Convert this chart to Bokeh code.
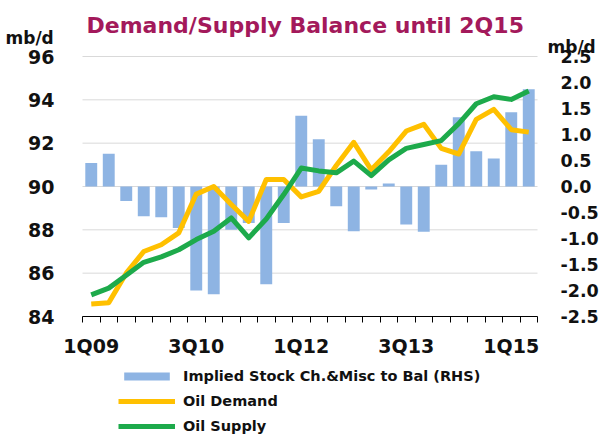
from bokeh.plotting import figure
from bokeh.models import Range1d, LinearAxis, FixedTicker, Label, Legend, LegendItem
from bokeh.embed import file_html
from bokeh.resources import INLINE

quarters = ["1Q09", "2Q09", "3Q09", "4Q09", "1Q10", "2Q10", "3Q10", "4Q10",
            "1Q11", "2Q11", "3Q11", "4Q11", "1Q12", "2Q12", "3Q12", "4Q12",
            "1Q13", "2Q13", "3Q13", "4Q13", "1Q14", "2Q14", "3Q14", "4Q14",
            "1Q15", "2Q15"]
oil_demand = [84.58, 84.64, 86.0, 87.0, 87.31, 87.86, 89.65, 90.0,
              89.17, 88.39, 90.32, 90.32, 89.52, 89.78, 90.97, 92.04,
              90.77, 91.6, 92.56, 92.87, 91.76, 91.5, 93.1, 93.56,
              92.62, 92.51]
oil_supply = [85.0, 85.31, 85.9, 86.5, 86.75, 87.08, 87.55, 87.93,
              88.55, 87.63, 88.5, 89.63, 90.85, 90.72, 90.63, 91.17,
              90.5, 91.23, 91.76, 91.94, 92.12, 92.9, 93.82, 94.14,
              94.02, 94.41]
stock_change = [0.45, 0.63, -0.28, -0.57, -0.59, -0.8, -2.0, -2.07,
                -0.83, -0.7, -1.88, -0.7, 1.36, 0.91, -0.38, -0.86,
                -0.06, 0.06, -0.73, -0.87, 0.42, 1.33, 0.68, 0.54,
                1.43, 1.87]
left_ticks = [84, 86, 88, 90, 92, 94, 96]
right_ticks = [-2.5, -2.0, -1.5, -1.0, -0.5, 0.0, 0.5, 1.0, 1.5, 2.0, 2.5]
right_labels = ["-2.5", "-2.0", "-1.5", "-1.0", "-0.5", "0.0", "0.5", "1.0", "1.5", "2.0", "2.5"]
shown_quarters = ["1Q09", "3Q10", "1Q12", "3Q13", "1Q15"]
unit_label = "mb/d"
title_text = "Demand/Supply Balance until 2Q15"

FONT = "DejaVu Sans"
n = len(quarters)
xs = list(range(n))

# geometry (pixels). The frame covers the whole canvas; the axes are pinned
# to the edges of the plotting area so that the title and legend fit inside.
W, H = 599, 438
LEFT, RIGHT, TOP, SPAN_Y = 82, 62, 56, 260
BOTTOM = H - TOP - SPAN_Y
x_ppu = (W - LEFT - RIGHT) / n
left_ppu = SPAN_Y / (left_ticks[-1] - left_ticks[0])
right_ppu = SPAN_Y / (right_ticks[-1] - right_ticks[0])
x_first, x_last = -0.5, n - 0.5

p = figure(width=W, height=H, output_backend="svg", toolbar_location=None,
           x_range=Range1d(x_first - LEFT / x_ppu, x_last + RIGHT / x_ppu),
           y_range=Range1d(left_ticks[0] - BOTTOM / left_ppu, left_ticks[-1] + TOP / left_ppu),
           min_border_left=0, min_border_right=0, min_border_top=0, min_border_bottom=0)
p.outline_line_color = None
p.background_fill_color = "white"
p.border_fill_color = "white"
p.extra_y_ranges = {"rhs": Range1d(right_ticks[0] - BOTTOM / right_ppu,
                                   right_ticks[-1] + TOP / right_ppu)}

# grid lines across the plotting area only
p.xgrid.visible = False
p.ygrid.visible = False
p.segment(x0=[x_first] * len(left_ticks), x1=[x_last] * len(left_ticks),
          y0=left_ticks, y1=left_ticks, line_color="#D9D9D9", line_width=1)

bars = p.vbar(x=xs, top=stock_change, bottom=0, width=0.68, y_range_name="rhs",
              fill_color="#8EB4E3", line_color=None)
dem = p.line(xs, oil_demand, line_width=5, line_color="#FFC000", line_join="round")
sup = p.line(xs, oil_supply, line_width=5, line_color="#1DAA4B", line_join="round")

# x axis
xa = p.xaxis[0]
xa.fixed_location = left_ticks[0]
xa.bounds = (x_first, x_last)
major = [quarters.index(q) for q in shown_quarters]
xa.ticker = FixedTicker(ticks=major, minor_ticks=[i - 0.5 for i in range(n + 1)])
xa.major_label_overrides = {i: quarters[i] for i in major}
xa.major_tick_out = 0
xa.major_tick_in = 0
xa.minor_tick_out = 6
xa.minor_tick_in = 0
xa.minor_tick_line_color = "black"
xa.axis_line_color = "black"
xa.major_label_standoff = 12
xa.major_label_text_font = FONT
xa.major_label_text_font_style = "bold"
xa.major_label_text_font_size = "19px"
xa.major_label_text_color = "#111111"

# left axis
ya = p.yaxis[0]
ya.fixed_location = x_first
ya.ticker = FixedTicker(ticks=left_ticks)
ya.axis_line_color = None
ya.major_tick_line_color = None
ya.minor_tick_line_color = None
ya.major_label_standoff = 22
ya.major_label_text_font = FONT
ya.major_label_text_font_style = "bold"
ya.major_label_text_font_size = "19px"
ya.major_label_text_color = "#111111"

# right axis
ra = LinearAxis(y_range_name="rhs", ticker=FixedTicker(ticks=right_ticks))
ra.fixed_location = x_last
ra.major_label_overrides = {t: l for t, l in zip(right_ticks, right_labels)}
ra.axis_line_color = None
ra.major_tick_line_color = None
ra.minor_tick_line_color = None
ra.major_label_standoff = 17
ra.major_label_text_font = FONT
ra.major_label_text_font_style = "bold"
ra.major_label_text_font_size = "17.5px"
ra.major_label_text_color = "#111111"
p.add_layout(ra, "right")

# title and unit labels
p.add_layout(Label(x=x_first, y=left_ticks[-1], x_offset=4, y_offset=31, text=title_text,
                   text_font=FONT, text_font_style="bold", text_font_size="22px",
                   text_color="#A3195B", text_baseline="alphabetic"))
p.add_layout(Label(x=x_first, y=left_ticks[-1], x_offset=-77, y_offset=19, text=unit_label,
                   text_font=FONT, text_font_style="bold", text_font_size="17px",
                   text_color="#111111", text_baseline="alphabetic"))
p.add_layout(Label(x=x_last, y=left_ticks[-1], x_offset=10, y_offset=10, text=unit_label,
                   text_font=FONT, text_font_style="bold", text_font_size="17px",
                   text_color="#111111", text_baseline="alphabetic"))

legend = Legend(items=[LegendItem(label="Implied Stock Ch.&Misc to Bal (RHS)", renderers=[bars]),
                       LegendItem(label="Oil Demand", renderers=[dem]),
                       LegendItem(label="Oil Supply", renderers=[sup])],
                location=(118, 3), orientation="vertical",
                border_line_color=None, background_fill_alpha=0,
                glyph_width=57, glyph_height=10, label_height=18, spacing=7,
                padding=0, margin=0, label_standoff=8,
                label_text_font=FONT, label_text_font_style="bold",
                label_text_font_size="14.5px", label_text_color="#111111")
p.add_layout(legend, "center")

open("out.html", "w").write(file_html(p, INLINE))
